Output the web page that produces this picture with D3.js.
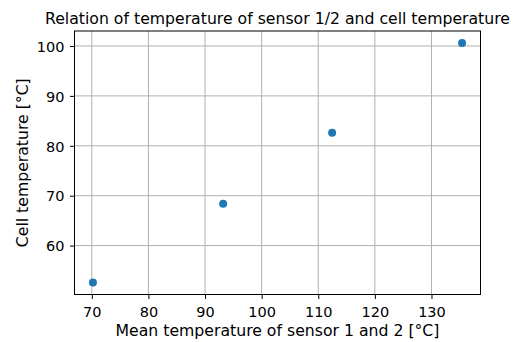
<!DOCTYPE html>
<html><head><meta charset="utf-8">
<script src="https://cdn.jsdelivr.net/npm/d3@7"></script>
<style>body{margin:0;background:#fff}svg{display:block}text{font-family:"DejaVu Sans",sans-serif;fill:#000}</style>
</head><body><svg id="c" width="515" height="342"></svg>
<script>
const sensorMean = [70.2, 93.2, 112.45, 135.4];
const cellTemp = [52.6, 68.4, 82.6, 100.6];
const xTicks = [70, 80, 90, 100, 110, 120, 130];
const yTicks = [60, 70, 80, 90, 100];
const title = "Relation of temperature of sensor 1/2 and cell temperature";
const xLabel = "Mean temperature of sensor 1 and 2 [°C]";
const yLabel = "Cell temperature [°C]";

const W = 515, H = 342;
const m = {left: 74.5, right: 480.5, top: 31, bottom: 294.5};
const svg = d3.select("#c");
const xMin = d3.min(sensorMean), xMax = d3.max(sensorMean);
const yMin = d3.min(cellTemp), yMax = d3.max(cellTemp);
const xp = (xMax - xMin) * 0.05, yp = (yMax - yMin) * 0.05;
const x = d3.scaleLinear().domain([xMin - xp, xMax + xp]).range([m.left, m.right]);
const y = d3.scaleLinear().domain([yMin - yp, yMax + yp]).range([m.bottom, m.top]);

// grid
const g = svg.append("g");
g.selectAll(".gx").data(xTicks).join("line")
  .attr("x1", d => x(d)).attr("x2", d => x(d)).attr("y1", m.top).attr("y2", m.bottom)
  .attr("stroke", "#b0b0b0").attr("stroke-width", 1);
g.selectAll(".gy").data(yTicks).join("line")
  .attr("y1", d => y(d)).attr("y2", d => y(d)).attr("x1", m.left).attr("x2", m.right)
  .attr("stroke", "#b0b0b0").attr("stroke-width", 1);

// axes
const fs = 14.5;
const xa = svg.append("g").attr("transform", `translate(0,${m.bottom})`)
  .call(d3.axisBottom(x).tickValues(xTicks).tickSize(4.5).tickPadding(6).tickSizeOuter(0));
const ya = svg.append("g").attr("transform", `translate(${m.left},0)`)
  .call(d3.axisLeft(y).tickValues(yTicks).tickSize(4.5).tickPadding(5.5).tickSizeOuter(0));
[xa, ya].forEach(a => {
  a.select(".domain").remove();
  a.selectAll("text").attr("font-size", fs).attr("font-family", "DejaVu Sans").attr("fill", "#000");
  a.selectAll("line").attr("stroke", "#000").attr("stroke-width", 1);
});
xa.selectAll("text").attr("dy", null).attr("y", 22.2);
ya.selectAll("text").attr("dy", "0.36em");

// spines
svg.append("rect").attr("x", m.left).attr("y", m.top)
  .attr("width", m.right - m.left).attr("height", m.bottom - m.top)
  .attr("fill", "none").attr("stroke", "#000").attr("stroke-width", 1);

// points
svg.selectAll(".pt").data(sensorMean).join("circle")
  .attr("cx", d => x(d)).attr("cy", (d, i) => y(cellTemp[i])).attr("r", 4)
  .attr("fill", "#1f77b4");

// labels
svg.append("text").attr("x", (m.left + m.right) / 2).attr("y", 23.5)
  .attr("text-anchor", "middle").attr("font-size", 15.7).text(title);
svg.append("text").attr("x", (m.left + m.right) / 2).attr("y", 335.5)
  .attr("text-anchor", "middle").attr("font-size", 15.7).text(xLabel);
svg.append("text").attr("transform", `translate(28,${(m.top + m.bottom) / 2}) rotate(-90)`)
  .attr("text-anchor", "middle").attr("font-size", 15.7).text(yLabel);
</script></body></html>
